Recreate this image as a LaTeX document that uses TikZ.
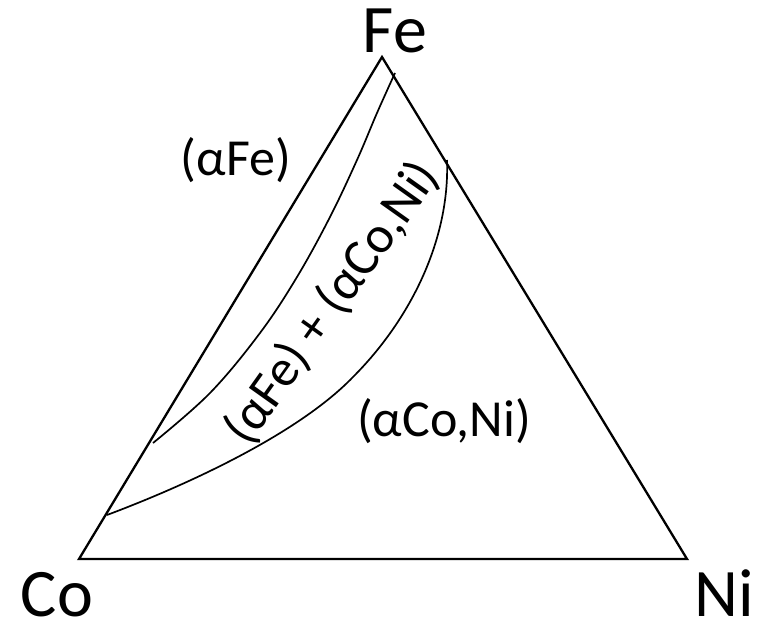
\documentclass[tikz,border=0pt]{standalone}
\usepackage{fontspec}
\setmainfont{Carlito}
\begin{document}
\begin{tikzpicture}[x=1pt,y=-1pt,
  edge/.style={line width=2.3pt, line join=miter},
  bound/.style={line width=1.7pt},
  vlabel/.style={font=\fontsize{68}{80}\selectfont, inner sep=0pt, anchor=base, text depth=0pt},
  plabel/.style={font=\fontsize{52}{62}\selectfont, inner sep=0pt}]
\useasboundingbox (0,0) rectangle (761,623);
\coordinate (fe) at (382,57);
\coordinate (co) at (79,559);
\coordinate (ni) at (687,559);
\draw[edge] (fe) -- (ni) -- (co) -- cycle;
\node[vlabel] (lfe) at (395,53) {Fe};
\node[vlabel] (lco) at (57,616) {Co};
\node[vlabel] (lni) at (724,616) {Ni};
\coordinate (a1) at (395,73);
\coordinate (a2) at (153,443);
\draw[bound] plot[smooth, tension=0.6] coordinates {(a1) (377,113) (357,160) (330,217) (297,277) (260,333) (210,393) (a2)};
\coordinate (b1) at (447,160);
\coordinate (bm) at (353,377);
\coordinate (b2) at (107,515);
\draw[bound] (b1) .. controls (450,240) and (410,320) .. (bm)
  .. controls (302,430) and (200,480) .. (b2);
\node[plabel, anchor=center] (tfe) at (236,160) {(αFe)};
\node[plabel, anchor=center] (tconi) at (444,421) {(αCo,Ni)};
\node[plabel, rotate=54.6, anchor=center] (ttwo) at (332,303) {(αFe) + (αCo,Ni)};
\end{tikzpicture}
\end{document}
